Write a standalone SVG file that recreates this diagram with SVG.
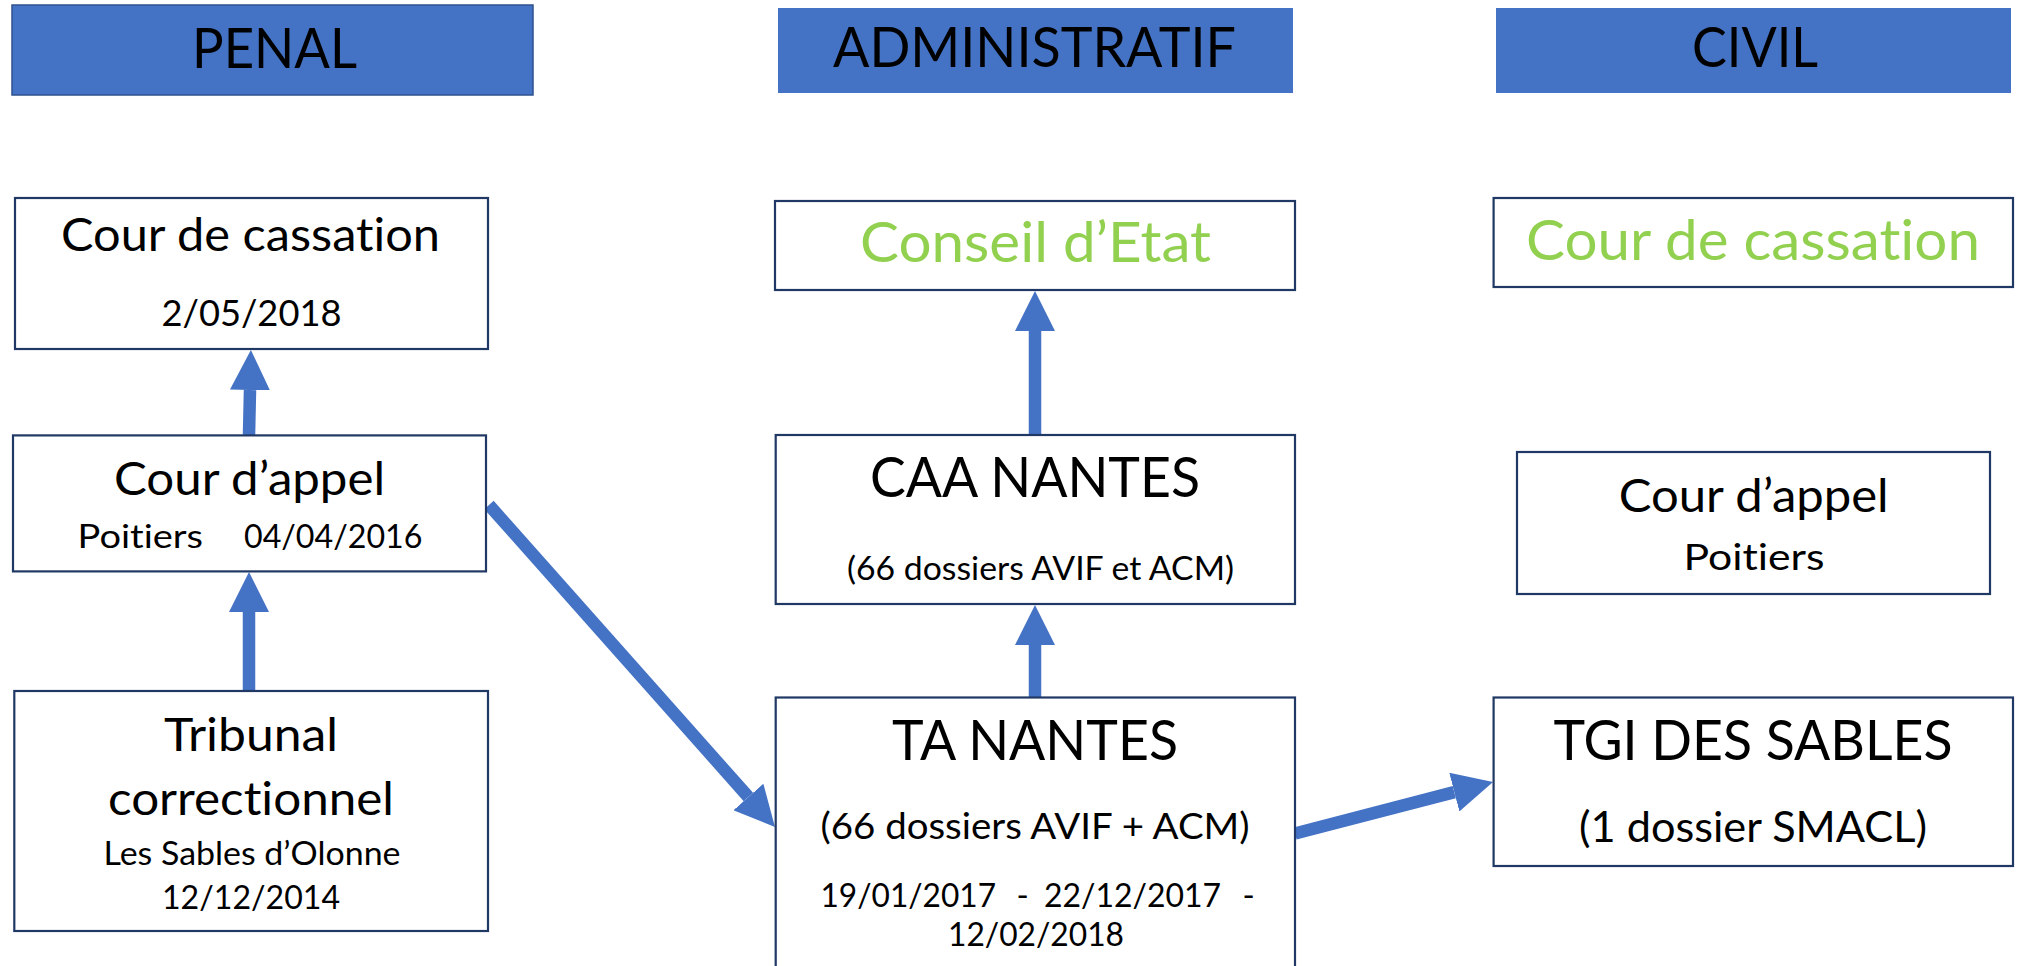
<svg xmlns="http://www.w3.org/2000/svg" width="2019" height="966" viewBox="0 0 2019 966">
<style>
text{font-family:Lato,"Open Sans","Liberation Sans",sans-serif;fill:#000;font-variant-ligatures:none;}
.hdr{fill:#4472C4;}
.box{fill:#fff;stroke:#203864;stroke-width:2.2;}
.conn{stroke:#4472C4;stroke-width:12.5;fill:none;marker-end:url(#ah);}
.mid{text-anchor:middle;}
.green{fill:#92D050;}
.t56{font-size:56px;}
.t46{font-size:46px;}
.t42{font-size:42px;}
.t37{font-size:37px;}
.t33{font-size:33px;}
</style>
<defs>
<marker id="ah" markerUnits="userSpaceOnUse" viewBox="0 0 40 40" markerWidth="40" markerHeight="40" refX="0" refY="20" orient="auto">
<path d="M0,0 L40,20 L0,40 Z" fill="#4472C4"/>
</marker>
</defs>
<rect width="2019" height="966" fill="#fff"/>

<g id="hdr-penal">
<rect class="hdr" x="12" y="5" width="521" height="90" stroke="#2F528F" stroke-width="1.5"/>
<text class="mid t56" x="274.5" y="67.7" textLength="165" lengthAdjust="spacingAndGlyphs">PENAL</text>
</g>
<g id="hdr-admin">
<rect class="hdr" x="778" y="8" width="515" height="85"/>
<text class="mid t56" x="1034.5" y="67" textLength="403" lengthAdjust="spacingAndGlyphs">ADMINISTRATIF</text>
</g>
<g id="hdr-civil">
<rect class="hdr" x="1496" y="8" width="515" height="85"/>
<text class="mid t56" x="1755" y="67" textLength="126" lengthAdjust="spacingAndGlyphs">CIVIL</text>
</g>

<g id="connectors">
<line class="conn" x1="249" y1="435" x2="250" y2="390"/>
<line class="conn" x1="249" y1="691" x2="249" y2="612"/>
<line class="conn" x1="489" y1="505" x2="748.4" y2="797"/>
<line class="conn" x1="1035" y1="698" x2="1035" y2="645"/>
<line class="conn" x1="1035" y1="435" x2="1035" y2="331"/>
<line class="conn" x1="1295" y1="833.5" x2="1454.3" y2="792.1"/>
</g>

<g id="penal-cassation">
<rect class="box" x="15" y="198" width="473" height="151"/>
<text class="mid t46" x="250.5" y="250.7" textLength="379" lengthAdjust="spacingAndGlyphs">Cour de cassation</text>
<text class="mid t37" x="251.5" y="326" textLength="180" lengthAdjust="spacingAndGlyphs">2/05/2018</text>
</g>
<g id="penal-appel">
<rect class="box" x="13" y="435.4" width="473" height="136"/>
<text class="mid t46" x="249.5" y="494.5" textLength="271" lengthAdjust="spacingAndGlyphs">Cour d’appel</text>
<text class="t33" y="548"><tspan x="77.6" textLength="125.4" lengthAdjust="spacingAndGlyphs">Poitiers</tspan><tspan x="244" textLength="178.4" lengthAdjust="spacingAndGlyphs">04/04/2016</tspan></text>
</g>
<g id="penal-tribunal">
<rect class="box" x="14.3" y="691" width="473.7" height="240"/>
<text class="mid t46" x="251" y="751" textLength="174" lengthAdjust="spacingAndGlyphs">Tribunal</text>
<text class="mid t46" x="251" y="815" textLength="286" lengthAdjust="spacingAndGlyphs">correctionnel</text>
<text class="mid t33" x="252" y="864.5" textLength="297" lengthAdjust="spacingAndGlyphs">Les Sables d’Olonne</text>
<text class="mid t33" x="251" y="909" textLength="178" lengthAdjust="spacingAndGlyphs">12/12/2014</text>
</g>

<g id="admin-conseil">
<rect class="box" x="775" y="201" width="520" height="89"/>
<text class="mid t56 green" x="1035.5" y="262" textLength="351" lengthAdjust="spacingAndGlyphs">Conseil d’Etat</text>
</g>
<g id="admin-caa">
<rect class="box" x="775.7" y="435" width="519.3" height="169"/>
<text class="mid t56" x="1035" y="497" textLength="330" lengthAdjust="spacingAndGlyphs">CAA NANTES</text>
<text class="mid t33" x="1040.5" y="579.6" textLength="387" lengthAdjust="spacingAndGlyphs">(66 dossiers AVIF et ACM)</text>
</g>
<g id="admin-ta">
<rect class="box" x="775.7" y="697.5" width="519.3" height="290"/>
<text class="mid t56" x="1035" y="760" textLength="286" lengthAdjust="spacingAndGlyphs">TA NANTES</text>
<text class="mid t37" x="1035" y="838.5" textLength="429" lengthAdjust="spacingAndGlyphs">(66 dossiers AVIF + ACM)</text>
<text class="t33" y="907"><tspan x="820.5" textLength="175.5" lengthAdjust="spacingAndGlyphs">19/01/2017</tspan><tspan x="1016.6">-</tspan><tspan x="1044" textLength="177" lengthAdjust="spacingAndGlyphs">22/12/2017</tspan><tspan x="1242.5">-</tspan></text>
<text class="mid t33" x="1036" y="945.6" textLength="176" lengthAdjust="spacingAndGlyphs">12/02/2018</text>
</g>

<g id="civil-cassation">
<rect class="box" x="1493.6" y="198" width="519.4" height="89"/>
<text class="mid t56 green" x="1753" y="260" textLength="454" lengthAdjust="spacingAndGlyphs">Cour de cassation</text>
</g>
<g id="civil-appel">
<rect class="box" x="1517" y="452" width="473" height="142"/>
<text class="mid t46" x="1753.7" y="511.6" textLength="270" lengthAdjust="spacingAndGlyphs">Cour d’appel</text>
<text class="mid t37" x="1754" y="570.4" textLength="141" lengthAdjust="spacingAndGlyphs">Poitiers</text>
</g>
<g id="civil-tgi">
<rect class="box" x="1493.6" y="697.5" width="519.4" height="168.5"/>
<text class="mid t56" x="1753" y="759.5" textLength="399" lengthAdjust="spacingAndGlyphs">TGI DES SABLES</text>
<text class="mid t42" x="1753" y="842" textLength="348" lengthAdjust="spacingAndGlyphs">(1 dossier SMACL)</text>
</g>
</svg>
